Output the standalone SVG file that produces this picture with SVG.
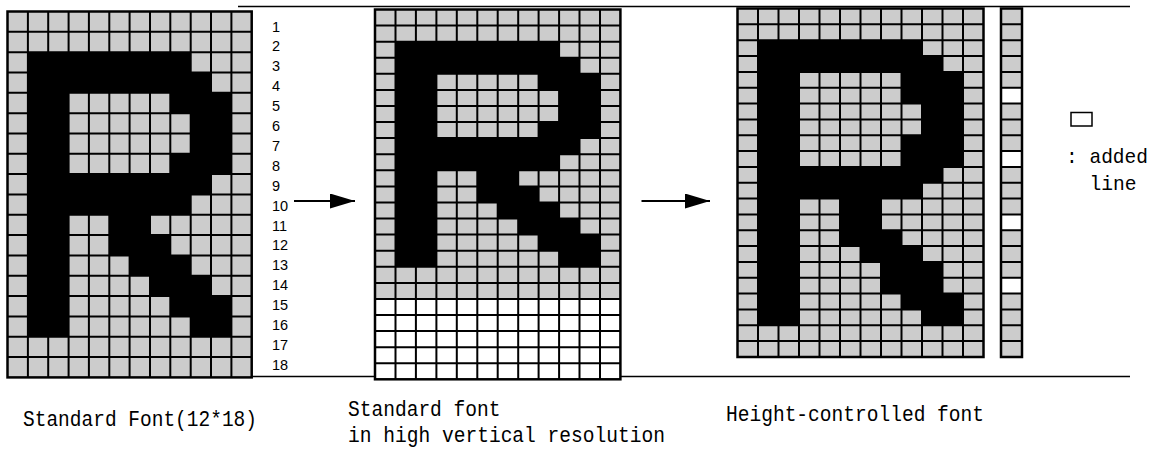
<svg xmlns="http://www.w3.org/2000/svg" width="1156" height="450" viewBox="0 0 1156 450">
  <style>
    .cell{fill:#cccccc}
    .ink{fill:#000}
    .blank{fill:#fff}
    .grid{fill:none;stroke:#000;stroke-width:2}
    .frame{fill:none;stroke:#000;stroke-width:2.5}
    .rule{stroke:#000;stroke-width:1.5}
    .lbl{font-family:"Liberation Mono","DejaVu Sans Mono",monospace;font-size:21px;fill:#000}
    .cap{font-size:22.5px}
    .num{font-family:"Liberation Sans",Arial,sans-serif;font-size:14.5px;fill:#000}
    .conn{stroke:#000;stroke-width:2;fill:none}
  </style>
  <defs>
    <marker id="arrowhead" markerUnits="userSpaceOnUse" viewBox="0 0 25 15" markerWidth="25" markerHeight="15" refX="25" refY="7.5" orient="auto">
      <path d="M0,0 L25,7.5 L0,15 Z" fill="#000"/>
    </marker>
    <!-- letter R on a 12x18 dot matrix, in cell units -->
    <g id="glyphR18" class="ink">
      <rect x="1" y="2" width="2" height="14"/>
      <rect x="1" y="2" width="8" height="1"/>
      <rect x="1" y="3" width="9" height="1"/>
      <rect x="8" y="4" width="3" height="1"/>
      <rect x="9" y="5" width="2" height="2"/>
      <rect x="8" y="7" width="3" height="1"/>
      <rect x="1" y="8" width="9" height="1"/>
      <rect x="1" y="9" width="8" height="1"/>
      <rect x="5" y="10" width="2" height="1"/>
      <rect x="5" y="11" width="3" height="1"/>
      <rect x="6" y="12" width="3" height="1"/>
      <rect x="7" y="13" width="3" height="1"/>
      <rect x="8" y="14" width="3" height="1"/>
      <rect x="9" y="15" width="2" height="1"/>
    </g>
    <!-- same letter stretched to 22 rows (rows 5, 9, 13, 17 repeated) -->
    <g id="glyphR22" class="ink">
      <rect x="1" y="2" width="2" height="18"/>
      <rect x="1" y="2" width="8" height="1"/>
      <rect x="1" y="3" width="9" height="1"/>
      <rect x="8" y="4" width="3" height="2"/>
      <rect x="9" y="6" width="2" height="2"/>
      <rect x="8" y="8" width="3" height="2"/>
      <rect x="1" y="10" width="9" height="1"/>
      <rect x="1" y="11" width="8" height="1"/>
      <rect x="5" y="12" width="2" height="2"/>
      <rect x="5" y="14" width="3" height="1"/>
      <rect x="6" y="15" width="3" height="1"/>
      <rect x="7" y="16" width="3" height="2"/>
      <rect x="8" y="18" width="3" height="1"/>
      <rect x="9" y="19" width="2" height="1"/>
    </g>
  </defs>

  <!-- upper and lower reference rules -->
  <g id="rules">
    <line class="rule" x1="238" y1="6.5" x2="1130" y2="6.5"/>
    <line class="rule" x1="237" y1="376.5" x2="1130" y2="376.5"/>
  </g>

  <!-- standard 12x18 font -->
  <g id="font-standard">
    <g transform="translate(7.5,11.5) scale(20.35,20.33)">
      <rect class="cell" x="0" y="0" width="12" height="18"/>
      <use href="#glyphR18"/>
    </g>
    <path class="grid" d="M27.9 11.5V377.4M48.2 11.5V377.4M68.6 11.5V377.4M88.9 11.5V377.4M109.3 11.5V377.4M129.6 11.5V377.4M150 11.5V377.4M170.3 11.5V377.4M190.7 11.5V377.4M211 11.5V377.4M231.4 11.5V377.4
      M7.5 31.8H251.7M7.5 52.2H251.7M7.5 72.5H251.7M7.5 92.8H251.7M7.5 113.2H251.7M7.5 133.5H251.7M7.5 153.8H251.7M7.5 174.1H251.7M7.5 194.5H251.7M7.5 214.8H251.7M7.5 235.1H251.7M7.5 255.5H251.7M7.5 275.8H251.7M7.5 296.1H251.7M7.5 316.5H251.7M7.5 336.8H251.7M7.5 357.1H251.7"/>
    <rect class="frame" x="7.5" y="11.5" width="244.2" height="365.9"/>
  </g>

  <!-- row numbers -->
  <g id="row-numbers" class="num">
    <text x="272" y="31.5">1</text>
    <text x="272" y="51.4">2</text>
    <text x="272" y="71.3">3</text>
    <text x="272" y="91.2">4</text>
    <text x="272" y="111.1">5</text>
    <text x="272" y="131">6</text>
    <text x="272" y="150.9">7</text>
    <text x="272" y="170.8">8</text>
    <text x="272" y="190.7">9</text>
    <text x="272" y="210.6">10</text>
    <text x="272" y="230.5">11</text>
    <text x="272" y="250.4">12</text>
    <text x="272" y="270.3">13</text>
    <text x="272" y="290.2">14</text>
    <text x="272" y="310.1">15</text>
    <text x="272" y="330">16</text>
    <text x="272" y="349.9">17</text>
    <text x="272" y="369.8">18</text>
  </g>

  <!-- standard font in high vertical resolution (23 rows) -->
  <g id="font-highres">
    <g transform="translate(375,9.5) scale(20.45,16.08)">
      <rect class="cell" x="0" y="0" width="12" height="18"/>
      <rect class="blank" x="0" y="18" width="12" height="5"/>
      <use href="#glyphR18"/>
    </g>
    <path class="grid" d="M395.5 9.5V379.3M415.9 9.5V379.3M436.4 9.5V379.3M456.8 9.5V379.3M477.3 9.5V379.3M497.7 9.5V379.3M518.2 9.5V379.3M538.6 9.5V379.3M559.1 9.5V379.3M579.5 9.5V379.3M600 9.5V379.3
      M375 25.6H620.4M375 41.7H620.4M375 57.7H620.4M375 73.8H620.4M375 89.9H620.4M375 106H620.4M375 122.1H620.4M375 138.1H620.4M375 154.2H620.4M375 170.3H620.4M375 186.4H620.4M375 202.5H620.4M375 218.5H620.4M375 234.6H620.4M375 250.7H620.4M375 266.8H620.4M375 282.9H620.4M375 298.9H620.4M375 315H620.4M375 331.1H620.4M375 347.2H620.4M375 363.3H620.4"/>
    <rect class="frame" x="375" y="9.5" width="245.4" height="369.8"/>
  </g>

  <!-- height-controlled font (22 rows) -->
  <g id="font-height-controlled">
    <g transform="translate(737.5,8.5) scale(20.5,15.84)">
      <rect class="cell" x="0" y="0" width="12" height="22"/>
      <use href="#glyphR22"/>
    </g>
    <path class="grid" d="M758 8.5V357M778.5 8.5V357M799 8.5V357M819.5 8.5V357M840 8.5V357M860.5 8.5V357M881 8.5V357M901.5 8.5V357M922 8.5V357M942.5 8.5V357M963 8.5V357
      M737.5 24.3H983.5M737.5 40.2H983.5M737.5 56H983.5M737.5 71.9H983.5M737.5 87.7H983.5M737.5 103.5H983.5M737.5 119.4H983.5M737.5 135.2H983.5M737.5 151.1H983.5M737.5 166.9H983.5M737.5 182.7H983.5M737.5 198.6H983.5M737.5 214.4H983.5M737.5 230.3H983.5M737.5 246.1H983.5M737.5 261.9H983.5M737.5 277.8H983.5M737.5 293.6H983.5M737.5 309.5H983.5M737.5 325.3H983.5M737.5 341.1H983.5"/>
    <rect class="frame" x="737.5" y="8.5" width="246" height="348.5"/>
  </g>

  <!-- row indicator column: white cells mark added lines -->
  <g id="added-line-column">
    <rect class="cell" x="1001" y="8.5" width="21" height="348.5"/>
    <rect class="blank" x="1001" y="87.7" width="21" height="15.8"/>
    <rect class="blank" x="1001" y="151.1" width="21" height="15.8"/>
    <rect class="blank" x="1001" y="214.4" width="21" height="15.9"/>
    <rect class="blank" x="1001" y="277.8" width="21" height="15.8"/>
    <path class="grid" d="M1001 24.3H1022M1001 40.2H1022M1001 56H1022M1001 71.9H1022M1001 87.7H1022M1001 103.5H1022M1001 119.4H1022M1001 135.2H1022M1001 151.1H1022M1001 166.9H1022M1001 182.7H1022M1001 198.6H1022M1001 214.4H1022M1001 230.3H1022M1001 246.1H1022M1001 261.9H1022M1001 277.8H1022M1001 293.6H1022M1001 309.5H1022M1001 325.3H1022M1001 341.1H1022"/>
    <rect class="frame" x="1001" y="8.5" width="21" height="348.5"/>
  </g>

  <!-- legend -->
  <g id="legend">
    <rect x="1071" y="112.5" width="21" height="13.5" fill="#fff" stroke="#000" stroke-width="1.5"/>
    <text class="lbl" x="1066" y="163" textLength="82" lengthAdjust="spacingAndGlyphs">: added</text>
    <text class="lbl" x="1089.5" y="190" textLength="47" lengthAdjust="spacingAndGlyphs">line</text>
  </g>

  <!-- connectors -->
  <g id="connectors">
    <line class="conn" x1="294" y1="201" x2="355" y2="201" marker-end="url(#arrowhead)"/>
    <line class="conn" x1="641.5" y1="201" x2="710" y2="201" marker-end="url(#arrowhead)"/>
  </g>

  <!-- captions -->
  <g id="captions" class="lbl cap">
    <text x="23" y="426" textLength="234" lengthAdjust="spacingAndGlyphs">Standard Font(12*18)</text>
    <text x="348" y="415.5" textLength="152.5" lengthAdjust="spacingAndGlyphs">Standard font</text>
    <text x="348" y="441.5" textLength="317" lengthAdjust="spacingAndGlyphs">in high vertical resolution</text>
    <text x="726" y="420.5" textLength="258" lengthAdjust="spacingAndGlyphs">Height-controlled font</text>
  </g>
</svg>
